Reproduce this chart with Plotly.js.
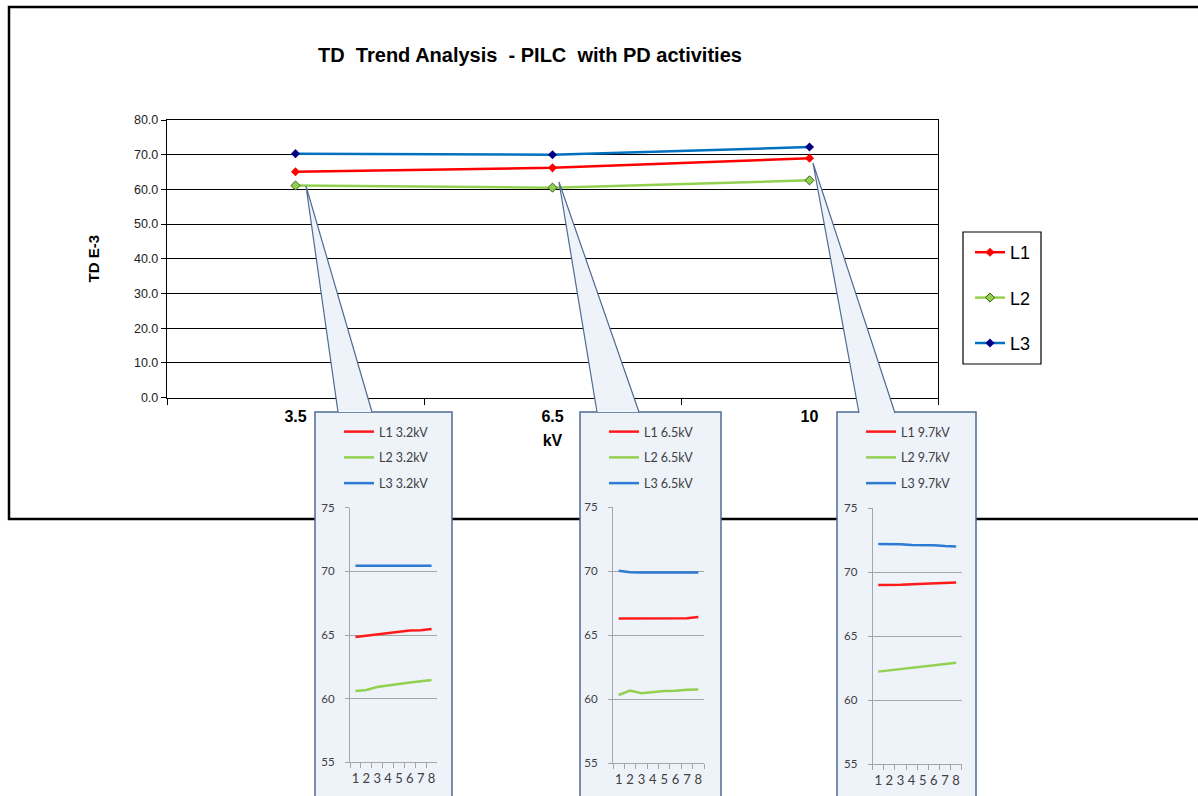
<!DOCTYPE html>
<html>
<head>
<meta charset="utf-8">
<script src="https://cdn.plot.ly/plotly-3.0.1.min.js"></script>
<style>html,body{margin:0;padding:0;background:#fff;}#chart{width:1198px;height:796px;}</style>
</head>
<body>
<div id="chart"></div>
<script>
// ---- data ----
const voltageCats = ['3.5', '6.5', '10'];
const tdL1 = [65.1, 66.2, 69.0];
const tdL2 = [61.1, 60.5, 62.6];
const tdL3 = [70.3, 70.0, 72.2];

const sampleCats = ['1', '2', '3', '4', '5', '6', '7', '8'];
const insetLabels = ['3.2kV', '6.5kV', '9.7kV'];
const L1_32 = [64.85, 64.95, 65.05, 65.15, 65.25, 65.35, 65.38, 65.48];
const L2_32 = [60.60, 60.68, 60.92, 61.05, 61.15, 61.26, 61.36, 61.47];
const L3_32 = [70.44, 70.44, 70.44, 70.44, 70.44, 70.44, 70.44, 70.44];
const L1_65 = [66.30, 66.30, 66.30, 66.30, 66.30, 66.30, 66.32, 66.42];
const L2_65 = [60.32, 60.66, 60.45, 60.55, 60.63, 60.65, 60.73, 60.75];
const L3_65 = [70.04, 69.92, 69.90, 69.90, 69.90, 69.90, 69.90, 69.90];
const L1_97 = [69.00, 69.00, 69.02, 69.07, 69.10, 69.12, 69.17, 69.20];
const L2_97 = [62.24, 62.34, 62.44, 62.54, 62.64, 62.74, 62.84, 62.94];
const L3_97 = [72.22, 72.22, 72.20, 72.13, 72.12, 72.12, 72.05, 72.02];

// ---- layout helpers ----
const W = 1198, H = 796;
const px = v => v / W;
const py = v => 1 - v / H;
const FONT = 'Liberation Sans, Arial, sans-serif';
const IFONT = 'Lato, Open Sans, sans-serif';
const cRed = '#FF0000', cGreen = '#92D050', cBlue = '#0070C0';
const boxFill = '#EEF2F9', boxLine = '#4F6B93';

const traces = [
  {x: voltageCats, y: tdL1, name: 'L1', type: 'scatter', mode: 'lines+markers', xaxis: 'x', yaxis: 'y',
   line: {color: cRed, width: 2.5}, marker: {symbol: 'diamond', size: 7, color: cRed}, legendgroup: 'm1'},
  {x: voltageCats, y: tdL2, name: 'L2', type: 'scatter', mode: 'lines+markers', xaxis: 'x', yaxis: 'y',
   line: {color: cGreen, width: 2.5}, marker: {symbol: 'diamond', size: 7, color: cGreen, line: {color: '#3B5E1A', width: 1}}, legendgroup: 'm2'},
  {x: voltageCats, y: tdL3, name: 'L3', type: 'scatter', mode: 'lines+markers', xaxis: 'x', yaxis: 'y',
   line: {color: cBlue, width: 2.5}, marker: {symbol: 'diamond', size: 7, color: '#000080'}, legendgroup: 'm3'}
];

const insetData = [[L1_32, L2_32, L3_32], [L1_65, L2_65, L3_65], [L1_97, L2_97, L3_97]];
const insetColors = ['#FF1A1A', '#92D050', '#2B7BD1'];
insetData.forEach((set, i) => {
  set.forEach((ys, j) => {
    traces.push({
      x: sampleCats, y: ys, name: 'L' + (j + 1) + ' ' + insetLabels[i], type: 'scatter', mode: 'lines',
      xaxis: 'x' + (i + 2), yaxis: 'y' + (i + 2), legend: 'legend' + (i + 2), legendgroup: 'g' + i + j,
      line: {color: insetColors[j], width: 2.5}
    });
  });
});

// geometry of the three call-out boxes (pixels)
const boxes = [
  {x0: 315, x1: 452, ax: [350, 437], ay: [507.7, 762.3], tri: [[306, 186], [338, 412], [372, 412]], leg: 339},
  {x0: 580, x1: 721, ax: [613, 704], ay: [507.3, 763], tri: [[559, 182], [597, 412], [639, 412]], leg: 604},
  {x0: 837, x1: 976, ax: [872.7, 961.7], ay: [508.3, 764.3], tri: [[813, 163], [859, 413], [895, 413]], leg: 861}
];

const shapes = [
  {type: 'rect', xref: 'paper', yref: 'paper', x0: px(9), x1: px(1215), y0: py(519), y1: py(7),
   line: {color: '#000', width: 2.5}, fillcolor: 'rgba(0,0,0,0)', layer: 'below'},
  // frame of the main legend
  {type: 'rect', xref: 'paper', yref: 'paper', x0: px(963), x1: px(1041), y0: py(364), y1: py(232),
   line: {color: '#000', width: 1.2}, fillcolor: '#fff', layer: 'below'}
];
boxes.forEach(b => {
  shapes.push({type: 'rect', xref: 'paper', yref: 'paper', x0: px(b.x0), x1: px(b.x1), y0: py(812), y1: py(412),
    line: {color: boxLine, width: 1.5}, fillcolor: boxFill, layer: 'below'});
  const t = b.tri;
  shapes.push({type: 'path', xref: 'paper', yref: 'paper',
    path: `M ${px(t[1][0])} ${py(t[1][1])} L ${px(t[0][0])} ${py(t[0][1])} L ${px(t[2][0])} ${py(t[2][1])}`,
    line: {color: boxLine, width: 1.2}, fillcolor: boxFill, layer: 'above'});
});

const layout = {
  width: W, height: H,
  margin: {l: 0, r: 0, t: 0, b: 0},
  paper_bgcolor: '#ffffff', plot_bgcolor: 'rgba(0,0,0,0)',
  font: {family: FONT, color: '#000'},
  title: {text: 'TD\u00A0\u00A0Trend Analysis\u00A0\u00A0-\u00A0PILC\u00A0\u00A0with PD activities',
          font: {family: FONT, size: 20, weight: 'bold', color: '#000'},
          x: px(530), xref: 'paper', xanchor: 'center', y: py(55), yref: 'paper', yanchor: 'middle'},
  xaxis: {domain: [px(167), px(938)], anchor: 'y', type: 'category', tickson: 'boundaries', range: [-0.5, 2.5],
          ticks: 'outside', ticklen: 6, tickcolor: '#000', showline: true, linecolor: '#000', linewidth: 1.2, mirror: true,
          showgrid: false, zeroline: false, ticklabelstandoff: 4,
          tickfont: {family: FONT, size: 16, weight: 'bold', color: '#000'},
          title: {text: 'kV', font: {family: FONT, size: 16, weight: 'bold', color: '#000'}, standoff: 10}},
  yaxis: {domain: [py(397.5), py(120)], anchor: 'x', range: [0, 80], dtick: 10, tickformat: '.1f',
          ticks: 'outside', ticklen: 5, tickcolor: '#000', showline: true, linecolor: '#000', linewidth: 1.2, mirror: true,
          showgrid: true, gridcolor: '#000', gridwidth: 1, zeroline: false,
          tickfont: {family: FONT, size: 12.5, color: '#222'},
          title: {text: 'TD E-3', font: {family: FONT, size: 15, weight: 'bold', color: '#000'}, standoff: 30}},
  legend: {x: px(970), y: py(234), xanchor: 'left', yanchor: 'top', borderwidth: 0,
           bgcolor: 'rgba(0,0,0,0)', font: {family: FONT, size: 18, color: '#000'}, tracegroupgap: 19},
  shapes: shapes,
  showlegend: true
};

boxes.forEach((b, i) => {
  const n = i + 2;
  layout['xaxis' + n] = {domain: [px(b.ax[0]), px(b.ax[1])], anchor: 'y' + n, type: 'category', tickson: 'boundaries',
    range: [-0.5, 7.5], tickmode: 'linear', tick0: 0, dtick: 1, tickangle: 0,
    ticks: 'outside', ticklen: 5, tickcolor: '#A6A6A6', showline: true, linecolor: '#A6A6A6', linewidth: 1,
    showgrid: false, zeroline: false, fixedrange: true, ticklabelstandoff: 4,
    tickfont: {family: IFONT, size: 13, color: '#404040'}};
  layout['yaxis' + n] = {domain: [py(b.ay[1]), py(b.ay[0])], anchor: 'x' + n, range: [55, 75], dtick: 5,
    ticks: 'outside', ticklen: 4, tickcolor: '#A6A6A6', showline: true, linecolor: '#A6A6A6', linewidth: 1,
    showgrid: true, gridcolor: '#A6A6A6', gridwidth: 1, zeroline: false, fixedrange: true, ticklabelstandoff: 8,
    tickfont: {family: IFONT, size: 11.5, color: '#404040'}};
  layout['legend' + n] = {x: px(b.leg), y: py(417), xanchor: 'left', yanchor: 'top', bgcolor: 'rgba(0,0,0,0)',
    borderwidth: 0, font: {family: IFONT, size: 12.5, color: '#404040'}, tracegroupgap: 6.5};
});

Plotly.newPlot('chart', traces, layout, {displayModeBar: false, staticPlot: true});
</script>
</body>
</html>
